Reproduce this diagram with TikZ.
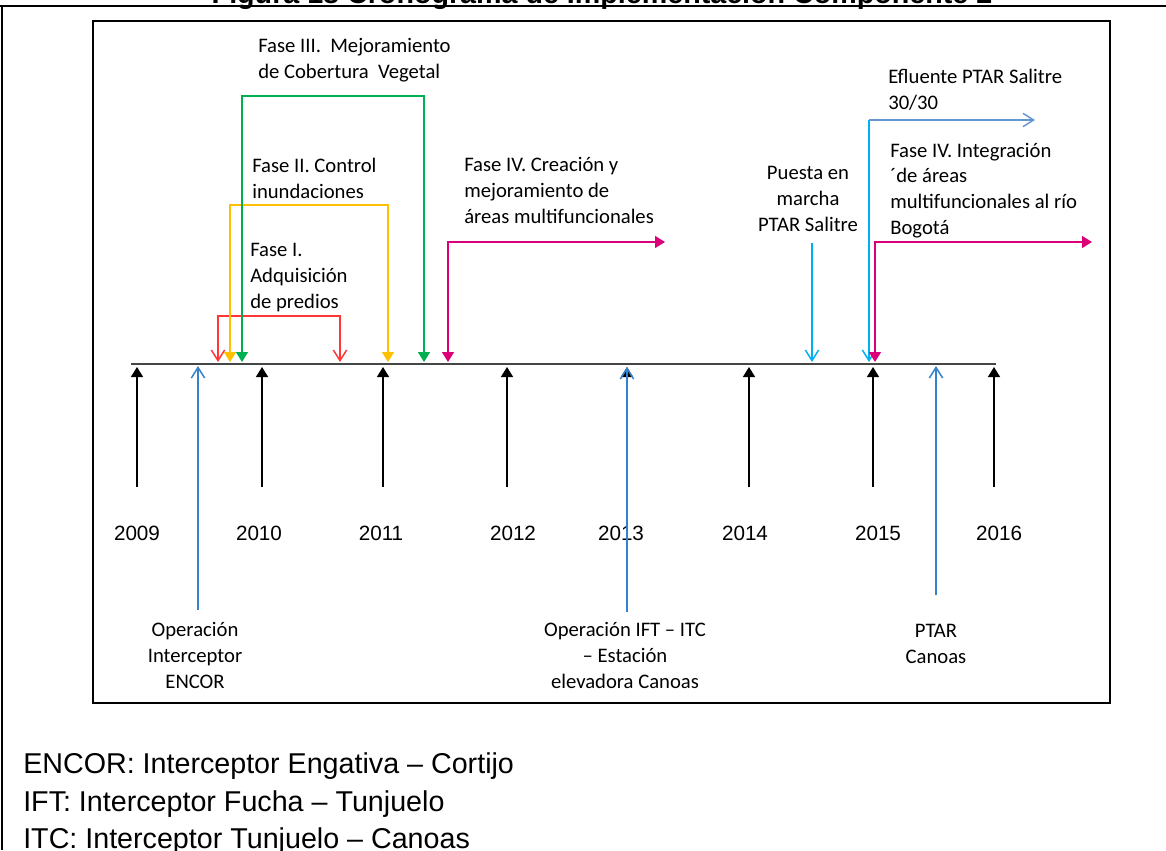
\documentclass[tikz,border=0pt]{standalone}
\usepackage{fontspec}
\setmainfont{Carlito}
\newfontfamily\arialfont{Liberation Sans}
\usetikzlibrary{arrows.meta}

\definecolor{faseone}{RGB}{255,55,55}
\definecolor{fasetwo}{RGB}{255,192,0}
\definecolor{fasethree}{RGB}{0,176,80}
\definecolor{fasefour}{RGB}{220,0,120}
\definecolor{salitreblue}{RGB}{0,176,240}
\definecolor{opblue}{RGB}{50,130,205}
\definecolor{efblue}{RGB}{100,150,210}
\definecolor{axisgray}{RGB}{70,70,70}

\begin{document}
\begin{tikzpicture}[
    x=0.75pt, y=-0.75pt,
    % multi-line nodes: anchor base = baseline of the last line
    phasetext/.style={font=\fontsize{15.5}{19.2}\selectfont, align=left, inner sep=0pt, anchor=base west},
    eventtext/.style={font=\fontsize{15.5}{19.2}\selectfont, align=center, inner sep=0pt, anchor=base},
    yeartext/.style={font=\arialfont\fontsize{15.5}{18}\selectfont, inner sep=0pt, anchor=base},
    legendtext/.style={font=\arialfont\fontsize{21.5}{26}\selectfont, inner sep=0pt, anchor=base west},
    filledtip/.style={-{Triangle[length=7.5pt,width=9pt]}},
    bothfilled/.style={{Triangle[length=7.5pt,width=9pt]}-{Triangle[length=7.5pt,width=9pt]}},
    opentip/.style={-{Straight Barb[length=8pt,width=10pt]}},
    bothopen/.style={{Straight Barb[length=8pt,width=10pt]}-{Straight Barb[length=8pt,width=10pt]}},
    conn/.style={line width=1.1pt},
]
\useasboundingbox (0,0) rectangle (1166,850);

% Title (cut by the page)
\begin{scope}
\clip (0,0) rectangle (1166,850);
\node[font=\arialfont\bfseries\fontsize{21.5}{26}\selectfont, inner sep=0pt, anchor=base] (title) at (602,3)
  {Figura 18 Cronograma de Implementación Componente 2};
\end{scope}

% Frames
\draw[line width=1.6pt] (0,6) -- (1166,6);
\draw[line width=1.6pt] (2,6) -- (2,850);
\draw[line width=2.2pt] (93,21) rectangle (1110,703);

% Time axis
\coordinate (axisL) at (131,364);
\coordinate (axisR) at (996,364);
\draw[line width=1.5pt, axisgray] (axisL) -- (axisR);

% Years
\foreach \yr/\tx/\lx in {2009/137/137, 2010/262/259, 2011/383/381, 2012/507/513,
                          2013/627/621, 2014/749/745, 2015/873/878, 2016/994/999}{
  \coordinate (foot\yr) at (\tx,487);
  \coordinate (head\yr) at (\tx,367);
  \draw[conn, black, filledtip] (foot\yr) -- (head\yr);
  \node[yeartext] (y\yr) at (\lx,540) {\yr};
}

% Fase I
\node[phasetext] (faseI) at (250,308) {Fase I.\\Adquisición\\de predios};
\coordinate (fIa) at (218,362);
\coordinate (fIb) at (340,362);
\coordinate (fItop) at (279,316);
\draw[conn, faseone, bothopen] (fIa) |- (fItop) -| (fIb);

% Fase II
\node[phasetext] (faseII) at (252,198) {Fase II. Control\\inundaciones};
\coordinate (fIIa) at (230,362);
\coordinate (fIIb) at (388,362);
\coordinate (fIItop) at (309,205);
\draw[conn, fasetwo, bothfilled] (fIIa) |- (fIItop) -| (fIIb);

% Fase III
\node[phasetext] (faseIII) at (258,78) {Fase III.\ \ Mejoramiento\\de Cobertura\ \ Vegetal};
\coordinate (fIIIa) at (242,362);
\coordinate (fIIIb) at (424,362);
\coordinate (fIIItop) at (333,96);
\draw[conn, fasethree, bothfilled] (fIIIa) |- (fIIItop) -| (fIIIb);

% Fase IV creacion
\node[phasetext] (faseIV) at (464,223) {Fase IV.\ Creación y\\mejoramiento de\\áreas multifuncionales};
\coordinate (fIVa) at (448,362);
\coordinate (fIVb) at (665,242);
\draw[conn, fasefour, bothfilled] (fIVa) |- (fIVb);

% Puesta en marcha PTAR Salitre
\node[eventtext] (salitre) at (808,231) {Puesta en\\marcha\\PTAR Salitre};
\coordinate (salA) at (812,243);
\coordinate (salB) at (812,362);
\draw[conn, salitreblue, opentip] (salA) -- (salB);

% Efluente PTAR Salitre
\node[phasetext] (efluente) at (888,109) {Efluente PTAR Salitre\\30/30};
\coordinate (efCorner) at (869,120);
\coordinate (efA) at (869,362);
\coordinate (efB) at (1035,120);
\draw[conn, salitreblue, opentip] (efCorner) -- (efA);
\draw[conn, efblue, opentip] (efCorner) -- (efB);

% Fase IV integracion
\node[phasetext] (integra) at (890,234) {Fase IV.\ Integración\\´de áreas\\multifuncionales al río\\Bogotá};
\coordinate (fIVc) at (875,362);
\coordinate (fIVd) at (1092,242);
\draw[conn, fasefour, bothfilled] (fIVc) |- (fIVd);

% Bottom events
\node[eventtext] (encor) at (195,688) {Operación\\Interceptor\\ENCOR};
\coordinate (encorA) at (198,610);
\coordinate (encorB) at (198,366);
\draw[conn, opblue, opentip] (encorA) -- (encorB);

\node[eventtext] (ift) at (625,688) {Operación IFT -- ITC\\-- Estación\\elevadora Canoas};
\coordinate (iftA) at (627,612);
\coordinate (iftB) at (627,367);
\draw[conn, opblue, opentip] (iftA) -- (iftB);

\node[eventtext] (canoas) at (936,663) {PTAR\\Canoas};
\coordinate (canA) at (936,595);
\coordinate (canB) at (936,366);
\draw[conn, opblue, opentip] (canA) -- (canB);

% Legend
\node[legendtext] (legENCOR) at (23,773) {ENCOR: Interceptor Engativa – Cortijo};
\node[legendtext] (legIFT) at (23,811) {IFT: Interceptor Fucha – Tunjuelo};
\node[legendtext] (legITC) at (23,848) {ITC: Interceptor Tunjuelo – Canoas};

\end{tikzpicture}
\end{document}
